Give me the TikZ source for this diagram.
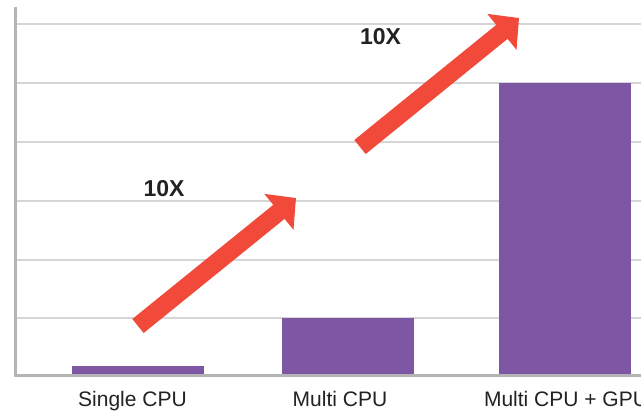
\documentclass[tikz,border=0pt]{standalone}
\usepackage{fontspec}
\setmainfont{Liberation Sans}
\usetikzlibrary{arrows.meta}
\definecolor{barpurple}{HTML}{7E57A4}
\definecolor{arrowred}{HTML}{F24A3A}
\definecolor{gridgray}{HTML}{D5D5D5}
\definecolor{axisgray}{HTML}{B4B4B4}
\definecolor{txt}{HTML}{222222}
\tikzset{
  grid line/.style={draw=gridgray, line width=1.5bp},
  axis line/.style={draw=axisgray, line width=3bp},
  bar/.style={fill=barpurple, draw=none},
  growth/.style={draw=arrowred, line width=18bp,
    -{Triangle[width=45bp,length=22bp]}},
  catlabel/.style={text=txt, anchor=base, inner sep=0pt,
    font=\fontsize{21bp}{25bp}\selectfont},
  factorlabel/.style={text=txt, anchor=center, inner sep=0pt,
    font=\fontsize{23bp}{27bp}\selectfont\bfseries}
}
\begin{document}
\begin{tikzpicture}[x=1bp,y=-1bp]
\clip (0,0) rectangle (641,414);
\fill[white] (0,0) rectangle (641,414);
% grid lines
\foreach \yy in {24,83,142,201,260,318} {
  \draw[grid line] (16,\yy) -- (641,\yy);
}
% bars
\fill[bar] (72,366) rectangle (204,375);
\fill[bar] (282,318) rectangle (414,375);
\fill[bar] (499,83) rectangle (631,375);
% axes
\coordinate (ytop) at (15,7);
\coordinate (origin) at (15,375.5);
\coordinate (xend) at (641,375.5);
\draw[axis line] (ytop) -- (origin);
\draw[axis line] (13.5,375.5) -- (xend);
% labels
\node[catlabel] (l1) at (132.5,406) {Single CPU};
\node[catlabel] (l2) at (340,406) {Multi CPU};
\node[catlabel] (l3) at (566,406) {Multi CPU + GPU};
% arrows
\coordinate (a1s) at (138,326);
\coordinate (a1e) at (296,198);
\coordinate (a2s) at (360,147);
\coordinate (a2e) at (519,18);
\draw[growth] (a1s) -- (a1e);
\draw[growth] (a2s) -- (a2e);
\node[factorlabel] (f1) at (164,189) {10X};
\node[factorlabel] (f2) at (380.5,37) {10X};
\end{tikzpicture}
\end{document}
